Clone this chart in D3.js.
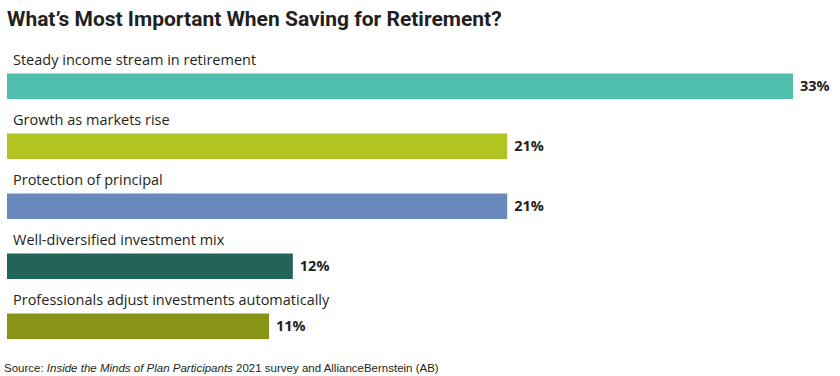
<!DOCTYPE html>
<html lang="en">
<head>
    <meta charset="UTF-8">
    <title>What's Most Important When Saving for Retirement?</title>
    <script src="https://d3js.org/d3.v7.min.js"></script>
    <style>
        body{
            margin: 0;
            background-color: #fff;
        }
        .title{
            font-family: Roboto, sans-serif;
            font-weight: 700;
            font-size: 21px;
            fill: #231f20;
        }
        .cat{
            font-family: "Open Sans", sans-serif;
            font-size: 14.5px;
            fill: #231f20;
        }
        .val{
            font-family: "Open Sans", sans-serif;
            font-weight: 700;
            font-size: 14.5px;
            fill: #231f20;
        }
        .source{
            font-family: "Liberation Sans", sans-serif;
            font-size: 11.5px;
            fill: #231f20;
        }
    </style>
</head>
<body>
    <div id="chart"></div>
    <script>
// data
var categories = [
    "Steady income stream in retirement",
    "Growth as markets rise",
    "Protection of principal",
    "Well-diversified investment mix",
    "Professionals adjust investments automatically"
];
var values = [33, 21, 21, 12, 11];
var colors = ["#50bfae", "#b1c422", "#6a8abd", "#22635a", "#879418"];

var width = 840, height = 376;

var svg = d3.select("#chart")
  .append("svg")
    .attr("width", width)
    .attr("height", height);

svg.append("text")
    .attr("class", "title")
    .attr("x", 7)
    .attr("y", 26)
    .text("What\u2019s Most Important When Saving for Retirement?");

// x scale: 0 at left edge of bars
var x = d3.scaleLinear()
    .domain([0, 33])
    .range([7, 793]);

// each row is a band: label on top, bar beneath
var y = d3.scaleBand()
    .domain(categories)
    .range([48, 348]);

var row = svg.selectAll(".row")
    .data(categories)
    .enter()
    .append("g")
      .attr("class", "row")
      .attr("transform", d => "translate(0," + y(d) + ")");

row.append("text")
    .attr("class", "cat")
    .attr("x", 13)
    .attr("y", 17)
    .text(d => d);

row.append("rect")
    .attr("x", x(0))
    .attr("y", 25.5)
    .attr("height", 25.5)
    .attr("width", (d, i) => x(values[i]) - x(0))
    .attr("fill", (d, i) => colors[i]);

row.append("text")
    .attr("class", "val")
    .attr("x", (d, i) => x(values[i]) + 7)
    .attr("y", 43)
    .text((d, i) => values[i] + "%");

var src = svg.append("text")
    .attr("class", "source")
    .attr("x", 4)
    .attr("y", 372);
src.append("tspan").text("Source:  ");
src.append("tspan").attr("font-style", "italic").text("Inside the Minds of Plan Participants");
src.append("tspan").text(" 2021 survey and AllianceBernstein (AB)");
    </script>
</body>
</html>
